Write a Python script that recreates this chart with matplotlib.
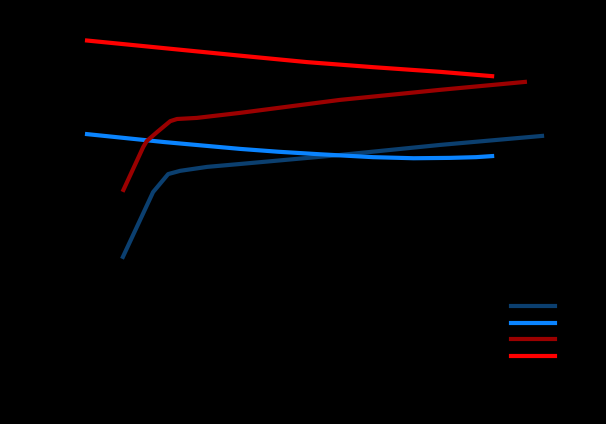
import numpy as np
import matplotlib
matplotlib.use("Agg")
import matplotlib.pyplot as plt

# values (x: step, y: score)
dark_blue_x = [12.1, 17.9, 20.8, 23.1, 28.3, 34.6, 53.8, 73.1, 92.7]
dark_blue_y = [0.342, 0.522, 0.572, 0.581, 0.592, 0.600, 0.625, 0.653, 0.678]

light_blue_x = [5.2, 20.0, 34.6, 42.0, 50.0, 60.2, 68.0, 75.0, 80.0, 83.1]
light_blue_y = [0.683, 0.661, 0.642, 0.634, 0.627, 0.619, 0.616, 0.617, 0.619, 0.622]

dark_red_x = [12.2, 14.5, 16.0, 16.7, 18.7, 21.2, 22.5, 26.3, 34.6, 53.8, 73.1, 89.4]
dark_red_y = [0.528, 0.600, 0.647, 0.664, 0.689, 0.719, 0.725, 0.728, 0.742, 0.778, 0.806, 0.828]

red_x = [5.2, 34.6, 47.5, 60.2, 73.1, 83.1]
red_y = [0.943, 0.901, 0.883, 0.869, 0.856, 0.844]

labels = ["A1", "A2", "B1", "B2"]
colors = ["#0b3f6f", "#0a84ff", "#9b0000", "#ff0000"]

fig = plt.figure(figsize=(6.06, 4.24), dpi=100, facecolor="black")
ax = fig.add_axes([60 / 606, 44 / 424, 520 / 606, 360 / 424])
ax.set_facecolor("black")

series = [(dark_blue_x, dark_blue_y), (light_blue_x, light_blue_y),
          (dark_red_x, dark_red_y), (red_x, red_y)]
for (xs, ys), lab, c in zip(series, labels, colors):
    ax.plot(xs, ys, color=c, lw=3.0, label=lab)

ax.set_xlim(0, 100)
ax.set_ylim(0, 1)
ax.set_xlabel("Step", color="black")
ax.set_ylabel("Score", color="black")
ax.tick_params(colors="black")
for s in ax.spines.values():
    s.set_color("black")

leg = ax.legend(loc="upper left", bbox_to_anchor=(500 / 606, 1 - 289 / 424),
                bbox_transform=fig.transFigure, frameon=False, fontsize=9,
                handlelength=3.5, labelspacing=0.3)
for t in leg.get_texts():
    t.set_color("black")

fig.savefig("out.png", dpi=100, facecolor="black")
